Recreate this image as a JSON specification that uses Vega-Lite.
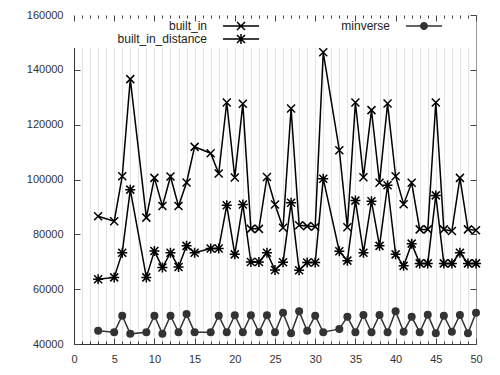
{
  "$schema": "https://vega.github.io/schema/vega-lite/v6.json",
  "width": 402,
  "height": 329,
  "autosize": "none",
  "padding": {"left": 74, "top": 15, "right": 24, "bottom": 31},
  "background": "white",
  "config": {
    "view": {"stroke": "#999", "strokeWidth": 1},
    "font": "Liberation Sans",
    "axis": {"labelFont": "Liberation Sans", "labelFontSize": 11, "labelColor": "#333", "domainColor": "#333", "tickColor": "#444", "tickWidth": 1, "title": null}
  },
  "datasets": {
    "d": [
      {"x": 3, "built_in": 86600, "built_in_distance": 63600, "minverse": 44800},
      {"x": 5, "built_in": 84800, "built_in_distance": 64300, "minverse": 44300},
      {"x": 6, "built_in": 101200, "built_in_distance": 73300, "minverse": 50300},
      {"x": 7, "built_in": 136600, "built_in_distance": 96300, "minverse": 43700},
      {"x": 9, "built_in": 86100, "built_in_distance": 64300, "minverse": 44300},
      {"x": 10, "built_in": 100600, "built_in_distance": 73900, "minverse": 50300},
      {"x": 11, "built_in": 90300, "built_in_distance": 67900, "minverse": 43700},
      {"x": 12, "built_in": 101100, "built_in_distance": 73300, "minverse": 50300},
      {"x": 13, "built_in": 90300, "built_in_distance": 68100, "minverse": 44300},
      {"x": 14, "built_in": 98900, "built_in_distance": 75800, "minverse": 50900},
      {"x": 15, "built_in": 111900, "built_in_distance": 73300, "minverse": 44300},
      {"x": 17, "built_in": 109600, "built_in_distance": 74800, "minverse": 44300},
      {"x": 18, "built_in": 102200, "built_in_distance": 74800, "minverse": 50300},
      {"x": 19, "built_in": 128100, "built_in_distance": 90600, "minverse": 44300},
      {"x": 20, "built_in": 100700, "built_in_distance": 72700, "minverse": 50500},
      {"x": 21, "built_in": 127600, "built_in_distance": 90900, "minverse": 44300},
      {"x": 22, "built_in": 82000, "built_in_distance": 69900, "minverse": 50500},
      {"x": 23, "built_in": 82000, "built_in_distance": 69900, "minverse": 44300},
      {"x": 24, "built_in": 100900, "built_in_distance": 73300, "minverse": 50500},
      {"x": 25, "built_in": 90900, "built_in_distance": 67000, "minverse": 44300},
      {"x": 26, "built_in": 82400, "built_in_distance": 69800, "minverse": 51400},
      {"x": 27, "built_in": 125900, "built_in_distance": 91500, "minverse": 43900},
      {"x": 28, "built_in": 83300, "built_in_distance": 66900, "minverse": 51900},
      {"x": 29, "built_in": 83000, "built_in_distance": 69700, "minverse": 44800},
      {"x": 30, "built_in": 82800, "built_in_distance": 69700, "minverse": 50300},
      {"x": 31, "built_in": 146400, "built_in_distance": 100300, "minverse": 44300},
      {"x": 33, "built_in": 110700, "built_in_distance": 73800, "minverse": 45500},
      {"x": 34, "built_in": 82600, "built_in_distance": 70400, "minverse": 49900},
      {"x": 35, "built_in": 128100, "built_in_distance": 92300, "minverse": 44300},
      {"x": 36, "built_in": 100800, "built_in_distance": 73300, "minverse": 50600},
      {"x": 37, "built_in": 125300, "built_in_distance": 92100, "minverse": 44300},
      {"x": 38, "built_in": 98800, "built_in_distance": 75800, "minverse": 50600},
      {"x": 39, "built_in": 127700, "built_in_distance": 97900, "minverse": 44300},
      {"x": 40, "built_in": 101200, "built_in_distance": 72700, "minverse": 51900},
      {"x": 41, "built_in": 91000, "built_in_distance": 68500, "minverse": 44500},
      {"x": 42, "built_in": 98800, "built_in_distance": 76600, "minverse": 49900},
      {"x": 43, "built_in": 81800, "built_in_distance": 69400, "minverse": 44300},
      {"x": 44, "built_in": 81800, "built_in_distance": 69400, "minverse": 50700},
      {"x": 45, "built_in": 128100, "built_in_distance": 94200, "minverse": 43900},
      {"x": 46, "built_in": 81800, "built_in_distance": 69400, "minverse": 50300},
      {"x": 47, "built_in": 81200, "built_in_distance": 69400, "minverse": 44500},
      {"x": 48, "built_in": 100600, "built_in_distance": 73300, "minverse": 50600},
      {"x": 49, "built_in": 81800, "built_in_distance": 69400, "minverse": 43900},
      {"x": 50, "built_in": 81500, "built_in_distance": 69400, "minverse": 51400}
    ]
  },
  "data": {"name": "d"},
  "transform": [{"fold": ["built_in", "built_in_distance", "minverse"], "as": ["series", "v"]}],
  "layer": [
    {
      "data": {"values": [{}]},
      "mark": {"type": "rect", "fill": "white", "stroke": null},
      "encoding": {
        "x": {"datum": 0, "type": "quantitative", "scale": {"domain": [0, 50], "nice": false}, "axis": null},
        "x2": {"datum": 50},
        "y": {"datum": 148000, "type": "quantitative", "scale": {"domain": [40000, 160000], "nice": false, "zero": false}, "axis": null},
        "y2": {"datum": 160000}
      }
    },
    {
      "mark": {"type": "line", "strokeWidth": 1.5},
      "encoding": {
        "x": {"field": "x", "type": "quantitative", "scale": {"domain": [0, 50], "nice": false},
          "axis": {"orient": "bottom", "values": [0,1,2,3,4,5,6,7,8,9,10,11,12,13,14,15,16,17,18,19,20,21,22,23,24,25,26,27,28,29,30,31,32,33,34,35,36,37,38,39,40,41,42,43,44,45,46,47,48,49,50],
            "labelExpr": "datum.value % 5 === 0 ? datum.label : ''",
            "tickSize": {"condition": {"test": "datum.value % 5 === 0", "value": -6}, "value": -3},
            "grid": true,
            "gridColor": {"condition": {"test": "datum.value === 0 || datum.value === 50", "value": "transparent"}, "value": "#e4e4e4"},
            "labelOverlap": false, "labelFlush": false, "labelPadding": 15, "domainColor": "#333"}},
        "y": {"field": "v", "type": "quantitative", "scale": {"domain": [40000, 160000], "nice": false, "zero": false},
          "axis": {"orient": "left", "values": [40000, 60000, 80000, 100000, 120000, 140000, 160000], "format": "d", "tickSize": -6, "grid": false, "labelPadding": 17, "domainColor": "#333"}},
        "detail": {"field": "series"},
        "color": {"field": "series", "scale": {"domain": ["built_in", "built_in_distance", "minverse"], "range": ["#000000", "#000000", "#333333"]}, "legend": null}
      }
    },
    {
      "transform": [{"filter": "datum.series !== 'minverse'"}],
      "mark": {"type": "point", "filled": false, "color": "black", "strokeWidth": 1.5, "size": 64, "opacity": 1},
      "encoding": {
        "x": {"field": "x", "type": "quantitative", "scale": {"domain": [0, 50], "nice": false},
          "axis": {"orient": "top", "values": [0,1,2,3,4,5,6,7,8,9,10,11,12,13,14,15,16,17,18,19,20,21,22,23,24,25,26,27,28,29,30,31,32,33,34,35,36,37,38,39,40,41,42,43,44,45,46,47,48,49,50],
            "labels": false, "domain": false, "grid": false, "zindex": 1,
            "tickSize": {"condition": {"test": "datum.value % 5 === 0", "value": -6}, "value": -3}}},
        "y": {"field": "v", "type": "quantitative", "scale": {"domain": [40000, 160000], "nice": false, "zero": false},
          "axis": {"orient": "right", "values": [40000, 60000, 80000, 100000, 120000, 140000, 160000], "labels": false, "domain": false, "grid": false, "tickSize": -6, "zindex": 1}},
        "shape": {"field": "series", "type": "nominal",
          "scale": {"domain": ["built_in", "built_in_distance"], "range": ["M-1,-1L1,1M-1,1L1,-1", "M-1,-1L1,1M-1,1L1,-1M0,-1.25V1.25M-1.25,0H1.25"]},
          "legend": null}
      }
    },
    {
      "transform": [{"filter": "datum.series !== 'minverse'"}],
      "mark": {"type": "point", "filled": false, "color": "black", "strokeWidth": 1.5, "size": 64, "opacity": 0},
      "encoding": {
        "x": {"field": "x", "type": "quantitative", "scale": {"domain": [0, 50], "nice": false}, "axis": null},
        "y": {"field": "v", "type": "quantitative", "scale": {"domain": [40000, 160000], "nice": false, "zero": false}, "axis": null},
        "shape": {"field": "series", "type": "nominal",
          "scale": {"domain": ["built_in", "built_in_distance"], "range": ["M-4.5,0H4.5M-1,-1L1,1M-1,1L1,-1", "M-4.5,0H4.5M-1,-1L1,1M-1,1L1,-1M0,-1.25V1.25"]},
          "legend": {"orient": "none", "legendX": 161, "legendY": 5, "title": null, "padding": 0,
            "labelAlign": "right", "labelOffset": -40, "labelFont": "Liberation Sans", "labelFontSize": 12, "labelColor": "#222",
            "symbolSize": 64, "rowPadding": -2, "symbolStrokeWidth": 1.5, "symbolOpacity": 1,
            "symbolStrokeColor": "black", "symbolFillColor": "transparent"}}
      }
    },
    {
      "transform": [{"filter": "datum.series === 'minverse'"}],
      "mark": {"type": "point", "filled": true, "color": "#333333", "size": 64, "opacity": 1},
      "encoding": {
        "x": {"field": "x", "type": "quantitative", "scale": {"domain": [0, 50], "nice": false}, "axis": null},
        "y": {"field": "v", "type": "quantitative", "scale": {"domain": [40000, 160000], "nice": false, "zero": false}, "axis": null},
        "shape": {"field": "series", "type": "nominal",
          "scale": {"domain": ["minverse"], "range": ["circle"]},
          "legend": null}
      }
    },
    {
      "transform": [{"filter": "datum.series === 'minverse'"}],
      "mark": {"type": "point", "filled": true, "color": "#333333", "size": 64, "opacity": 0},
      "encoding": {
        "x": {"field": "x", "type": "quantitative", "scale": {"domain": [0, 50], "nice": false}, "axis": null},
        "y": {"field": "v", "type": "quantitative", "scale": {"domain": [40000, 160000], "nice": false, "zero": false}, "axis": null},
        "shape": {"field": "series", "type": "nominal",
          "scale": {"domain": ["minverse"], "range": ["M-4.5,-0.19H4.5V0.19H-4.5ZM1,0A1,1,0,1,1,-1,0A1,1,0,1,1,1,0Z"]},
          "legend": {"orient": "none", "legendX": 344, "legendY": 5, "title": null, "padding": 0,
            "labelAlign": "right", "labelOffset": -40, "labelFont": "Liberation Sans", "labelFontSize": 12, "labelColor": "#222",
            "symbolSize": 64, "symbolStrokeWidth": 0, "symbolOpacity": 1,
            "symbolStrokeColor": "transparent", "symbolFillColor": "#333333"}}
      }
    }
  ],
  "resolve": {"scale": {"shape": "independent"}, "legend": {"shape": "independent"}}
}
